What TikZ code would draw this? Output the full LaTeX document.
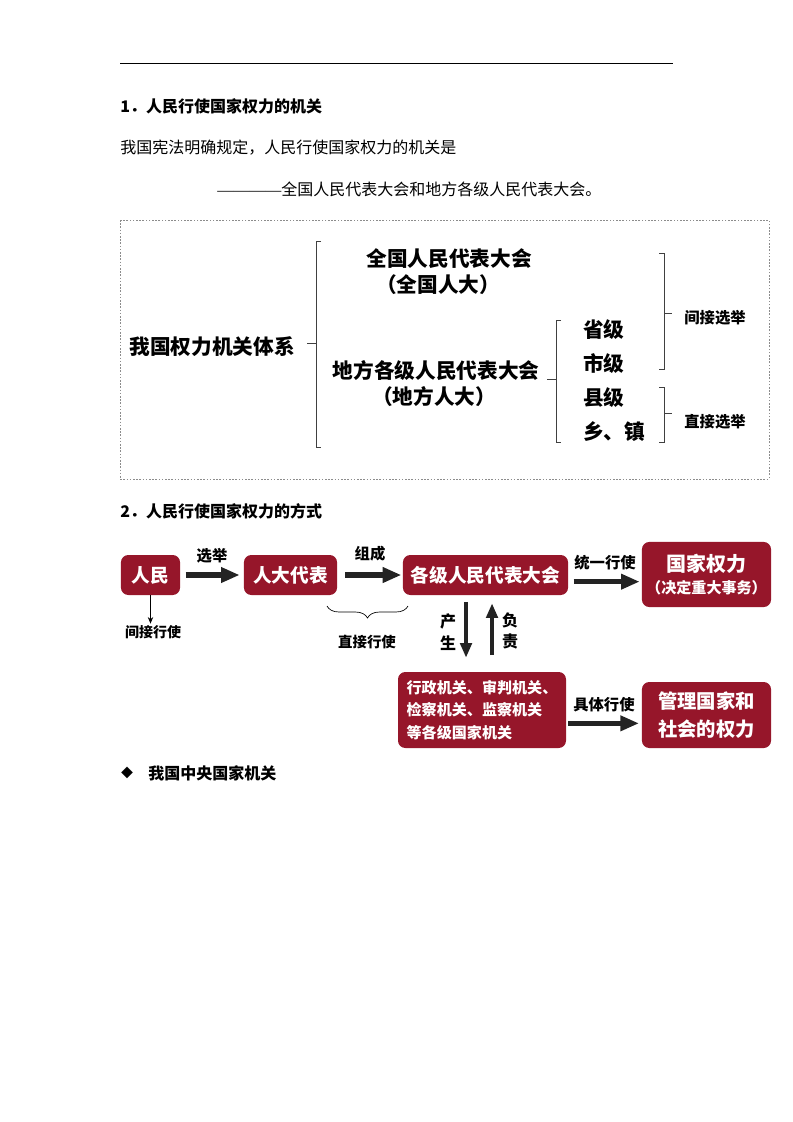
\documentclass[tikz,border=0pt]{standalone}
\usepackage{fontspec}
\usepackage{tikz}
\usetikzlibrary{arrows.meta,decorations.pathreplacing}
\setmainfont{Noto Sans CJK SC}
\newfontfamily\dashfont{Liberation Serif}
\definecolor{boxred}{RGB}{150,22,42}
\definecolor{darkarrow}{RGB}{35,35,35}

\begin{document}
\begin{tikzpicture}[x=0.75pt,y=-0.75pt,
        redbox/.style={fill=boxred, rounded corners=5.5pt, text=white, inner sep=0pt, align=center,
            font=\bfseries\fontsize{14}{17}\selectfont},
        bigarrow/.style={draw=darkarrow, line width=4pt, -{Triangle[length=14pt,width=11pt]}},
        vertarrow/.style={draw=darkarrow, line width=3.6pt, -{Triangle[length=11pt,width=8.5pt]}},
        lbl/.style={font=\bfseries\fontsize{11.5}{14}\selectfont, inner sep=1pt},
        bigtext/.style={font=\bfseries\fontsize{15.5}{18}\selectfont, inner sep=0pt},
        bodytext/.style={font=\fontsize{12}{14}\selectfont, inner sep=0pt, anchor=west},
        brk/.style={draw=black!75, line width=0.6pt}]
        \useasboundingbox (0,0) rectangle (793,1122);

        \draw[line width=0.75pt] (120,63) -- (673,63);
        \node[bodytext, font=\bfseries\fontsize{12}{14}\selectfont] (title1) at (120,106) {1．人民行使国家权力的机关};
        \node[bodytext] (law) at (120,148) {我国宪法明确规定，人民行使国家权力的机关是};
        \node[bodytext] (answer) at (217,189) {{\dashfont ————}全国人民代表大会和地方各级人民代表大会。};

        \draw[black!45, line width=0.6pt, dash pattern=on 1.2pt off 1.2pt] (120,220) rectangle (769,479);
        \node[bigtext] (system) at (212,347) {我国权力机关体系};
        \node[bigtext] (npc) at (449,259) {全国人民代表大会};
        \node[bigtext] (npcshort) at (438,285) {（全国人大）};
        \node[bigtext] (local) at (436,371) {地方各级人民代表大会};
        \node[bigtext] (localshort) at (434,397) {（地方人大）};
        \node[bigtext, anchor=west] (prov) at (583,330) {省级};
        \node[bigtext, anchor=west] (city) at (583,364) {市级};
        \node[bigtext, anchor=west] (county) at (583,398) {县级};
        \node[bigtext, anchor=west] (town) at (583,432) {乡、镇};
        \node[lbl] (indirect) at (715,318) {间接选举};
        \node[lbl] (direct) at (715,422) {直接选举};

        \draw[brk] (321,241) -- (316,241) -- (316,447) -- (321,447);
        \draw[brk] (316,343) -- (307,343);
        \draw[brk] (561,320) -- (556,320) -- (556,442) -- (561,442);
        \draw[brk] (556,379) -- (547,379);
        \draw[brk] (659,253) -- (664,253) -- (664,369) -- (659,369);
        \draw[brk] (664,313) -- (672,313);
        \draw[brk] (659,387) -- (664,387) -- (664,442) -- (659,442);
        \draw[brk] (664,413) -- (672,413);

        \node[bodytext, font=\bfseries\fontsize{12}{14}\selectfont] (title2) at (120,511) {2．人民行使国家权力的方式};

        \node[redbox, minimum width=44.3pt, minimum height=30pt] (renmin) at (150.5,575) {人民};
        \node[redbox, minimum width=69.8pt, minimum height=30pt] (rddb) at (290.5,575) {人大代表};
        \node[redbox, minimum width=123.8pt, minimum height=30pt] (gjrd) at (485.5,575) {各级人民代表大会};
        \node[redbox, minimum width=96.8pt, minimum height=48.8pt, font=\bfseries\fontsize{15}{17}\selectfont] (gjql) at (706.5,574.5)
            {国家权力\\[0pt]\fontsize{11.3}{13}\selectfont（决定重大事务）};
        \node[redbox, minimum width=126pt, minimum height=57pt, align=left, font=\bfseries\fontsize{11.3}{17}\selectfont] (xzjg) at (482,710)
            {行政机关、审判机关、\\检察机关、监察机关\\等各级国家机关};
        \node[redbox, minimum width=96.8pt, minimum height=49.5pt, font=\bfseries\fontsize{14.5}{21}\selectfont] (glgj) at (706.5,715)
            {管理国家和\\社会的权力};

        \draw[bigarrow, shorten <=4pt, shorten >=3pt] (renmin) -- (rddb) node[midway, above=6pt, lbl] {选举};
        \draw[bigarrow, shorten <=6pt, shorten >=1pt] (rddb) -- (gjrd) node[midway, above=7.5pt, lbl] {组成};
        \draw[bigarrow, shorten <=4pt, shorten >=1.5pt] ([yshift=-5pt]gjrd.east) -- ([yshift=-5pt]gjrd.east -| gjql.west)
            node[midway, above=6pt, lbl] {统一行使};
        \draw[bigarrow, shorten <=1.5pt, shorten >=2pt] ([yshift=-10pt]xzjg.east) -- ([yshift=-10pt]xzjg.east -| glgj.west)
            node[midway, above=5.5pt, lbl] {具体行使};

        \node[lbl, font=\bfseries\fontsize{10.5}{12}\selectfont] (jjxs) at (153,632) {间接行使};
        \draw[line width=0.6pt, -{Stealth[length=5pt,width=4pt]}] (renmin.south) -- (renmin.south |- jjxs.north);

        \coordinate (braceleft) at (327,606);
        \coordinate (braceright) at (408,606);
        \draw[line width=0.5pt, decorate, decoration={brace, mirror, amplitude=9pt}] (braceleft) -- (braceright);
        \node[lbl, font=\bfseries\fontsize{10.8}{12}\selectfont] (zjxs) at (367,642) {直接行使};

        \coordinate (cstop) at ([xshift=-14.6pt]gjrd.south);
        \coordinate (csbot) at (cstop |- xzjg.north);
        \coordinate (fztop) at ([xshift=4.9pt]gjrd.south);
        \coordinate (fzbot) at (fztop |- xzjg.north);
        \draw[vertarrow, shorten <=5pt, shorten >=10.5pt] (cstop) -- (csbot);
        \draw[vertarrow, shorten <=12.5pt, shorten >=6pt] (fzbot) -- (fztop);
        \node[lbl, align=center, font=\bfseries\fontsize{12}{16}\selectfont] (chansheng) at (448,632) {产\\生};
        \node[lbl, align=center, font=\bfseries\fontsize{12}{16}\selectfont] (fuze) at (510,631) {负\\责};

        \node[inner sep=0pt, font=\fontsize{9}{10}\selectfont] (diamond) at (127,773) {◆};
        \node[bodytext, font=\bfseries\fontsize{12}{14}\selectfont] (central) at (148,773) {我国中央国家机关};
    \end{tikzpicture}
\end{document}
